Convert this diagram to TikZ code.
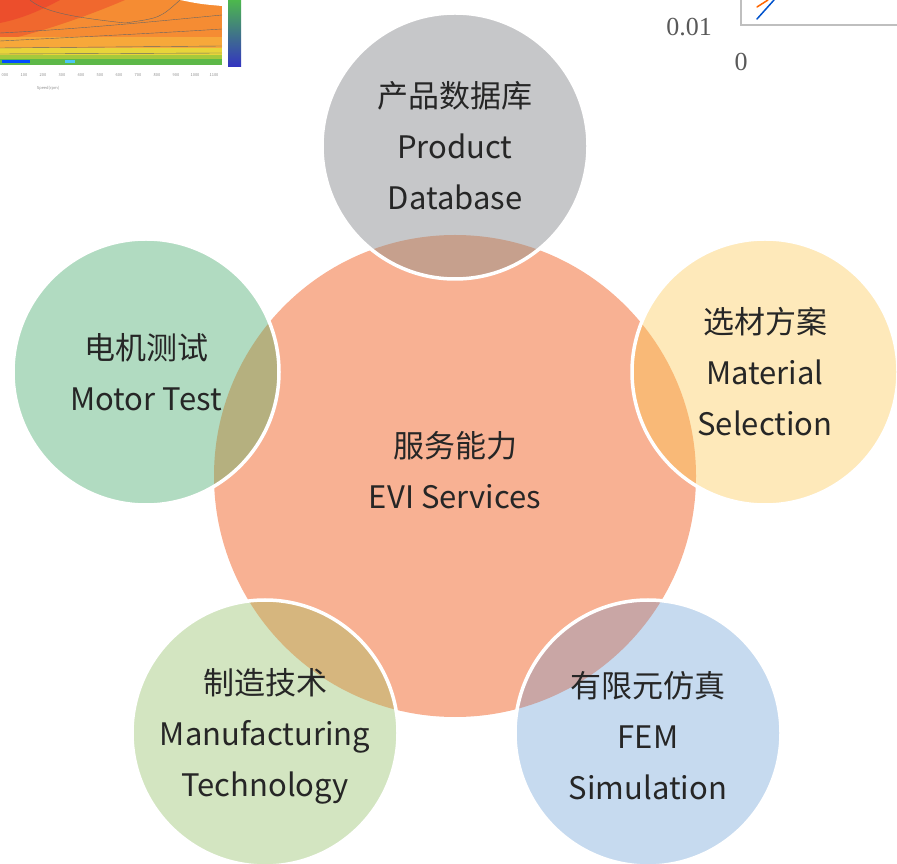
\documentclass[tikz,border=0pt]{standalone}
\usepackage{fontspec}
\setmainfont{Noto Sans CJK SC}
\newfontfamily\axisfont{Liberation Serif}
\usetikzlibrary{calc}

\definecolor{textgray}{HTML}{262626}
\definecolor{hubfill}{HTML}{F8B193}
\definecolor{topfill}{HTML}{C6C7C9}
\definecolor{topmix}{HTML}{C6A08D}
\definecolor{rightfill}{HTML}{FEE9BA}
\definecolor{rightmix}{HTML}{F9B977}
\definecolor{brfill}{HTML}{C6DAEF}
\definecolor{brmix}{HTML}{C9A6A5}
\definecolor{blfill}{HTML}{D3E5C1}
\definecolor{blmix}{HTML}{D6B67E}
\definecolor{leftfill}{HTML}{B1DBC1}
\definecolor{leftmix}{HTML}{B5B07F}
\definecolor{axisgray}{HTML}{595959}
\definecolor{heatred}{HTML}{EC4E2C}
\definecolor{heatredorange}{HTML}{F0682E}
\definecolor{heatorange}{HTML}{F58C33}
\definecolor{heatlight}{HTML}{F7A83A}
\definecolor{heatyellow}{HTML}{E8D43A}
\definecolor{heatlime}{HTML}{A5C93B}
\definecolor{heatgreen}{HTML}{5DB848}

\tikzset{
  label text/.style={text=textgray, align=center, font=\fontsize{31}{51}\selectfont},
  rim/.style={draw=white, line width=3.5pt},
  contour/.style={draw=black!60, line width=0.4pt},
  tiny text/.style={text=black!45, font=\fontsize{4}{4}\selectfont, inner sep=0pt},
}

\begin{document}
\begin{tikzpicture}[x=1pt,y=1pt]
        \useasboundingbox (0,0) rectangle (897,863);
        % piece of a contour map, top left
        \fill[heatorange] (0,798) rectangle (222,863);
        \fill[heatredorange] (0,863) -- (0,822) .. controls (40,830) and (90,848) .. (125,863) -- cycle;
        \fill[heatred] (0,863) -- (0,840) .. controls (25,845) and (45,855) .. (60,863) -- cycle;
        \fill[heatlight] (0,798) rectangle (222,826);
        \fill[heatyellow] (0,798) rectangle (222,815);
        \fill[heatlime] (0,798) rectangle (222,808);
        \fill[heatgreen] (0,798) rectangle (222,804);
        \fill[blue!70!cyan] (2,800) rectangle (30,803);
        \fill[cyan!70] (65,800) rectangle (75,803);
        \fill[white] (180,863) .. controls (200,859) .. (222,857) -- (222,863) -- cycle;
        \draw[contour] (0,830) .. controls (80,834) and (160,842) .. (222,848);
        \draw[contour] (0,822) .. controls (80,826) and (160,830) .. (222,834);
        \draw[contour] (0,815) -- (222,817);
        \draw[contour] (0,809) -- (222,810);
        \draw[contour] (30,863) .. controls (45,850) and (80,845) .. (125,840) .. controls (160,845) .. (180,863);
        \shade[top color=green!60!black!70!white, bottom color=blue!70!black!80!white] (228,796) rectangle (241,863);
        \foreach \i in {0,...,11}
          \node[tiny text] (tick\i) at (5+\i*19,788) {\i00};
        \node[tiny text] (speedaxis) at (48,775) {Speed(rpm)};
        % piece of a line chart, top right
        \draw[black!25, line width=1.2pt] (741,863) |- (897,838);
        \draw[orange!80!red, line width=1.5pt, line cap=round] (757,856) -- (768,863);
        \draw[blue!60!cyan!80!black, line width=1.5pt, line cap=round] (757,844) -- (774,863);
        \node[text=axisgray, font=\axisfont\fontsize{26}{26}\selectfont] (ytick) at (689,836) {0.01};
        \node[text=axisgray, font=\axisfont\fontsize{26}{26}\selectfont] (xtick) at (741,801) {0};
        % the circles
        \fill[hubfill] (455,387) circle (241);
        \fill[topfill] (455,717) circle (133);
        \begin{scope}\clip (455,717) circle (133); \fill[topmix] (455,387) circle (241); \end{scope}
        \draw[rim] (455,717) circle (133);
        \fill[rightfill] (765,491) circle (133);
        \begin{scope}\clip (765,491) circle (133); \fill[rightmix] (455,387) circle (241); \end{scope}
        \draw[rim] (765,491) circle (133);
        \fill[brfill] (648,130) circle (133);
        \begin{scope}\clip (648,130) circle (133); \fill[brmix] (455,387) circle (241); \end{scope}
        \draw[rim] (648,130) circle (133);
        \fill[blfill] (265,130) circle (133);
        \begin{scope}\clip (265,130) circle (133); \fill[blmix] (455,387) circle (241); \end{scope}
        \draw[rim] (265,130) circle (133);
        \fill[leftfill] (146,491) circle (133);
        \begin{scope}\clip (146,491) circle (133); \fill[leftmix] (455,387) circle (241); \end{scope}
        \draw[rim] (146,491) circle (133);
        % the labels
        \node[label text] (hub) at (455,393) {服务能力\\EVI Services};
        \node[label text] (product) at (455,717) {产品数据库\\Product\\Database};
        \node[label text] (material) at (765,491) {选材方案\\Material\\Selection};
        \node[label text] (fem) at (648,127) {有限元仿真\\FEM\\Simulation};
        \node[label text] (manufacturing) at (265,127) {制造技术\\Manufacturing\\Technology};
        \node[label text] (motortest) at (146,491) {电机测试\\Motor Test};
\end{tikzpicture}
\end{document}
